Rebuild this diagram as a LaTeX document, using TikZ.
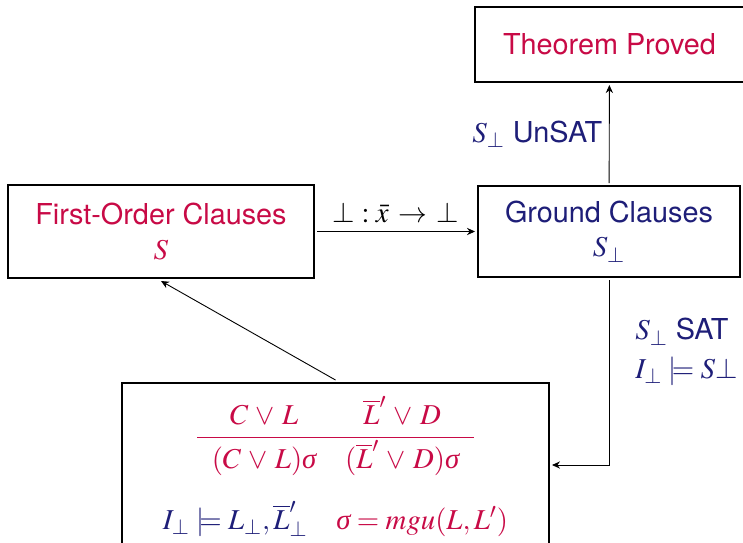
\documentclass[tikz,border=0pt]{standalone}
\usepackage{mathptmx}
\usepackage[no-math]{fontspec}
\setmainfont{TeX Gyre Heros}
\newfontfamily\lserif{Liberation Serif}
\usetikzlibrary{arrows.meta}
\definecolor{cred}{RGB}{200,10,70}
\definecolor{cblue}{RGB}{30,30,120}
\newcommand\msig{\mathord{\mbox{\lserif\itshape σ}}}
\newcommand\vv{\mathbin{\,\vee\,}}
\begin{document}
\begin{tikzpicture}[x=0.5pt,y=-0.5pt,
  box/.style={draw,line width=0.8pt,inner sep=0pt,outer sep=1.5pt,align=center,
    font=\fontsize{14.4}{17.28}\selectfont},
  conn/.style={line width=0.45pt,-{Stealth[length=4pt,width=3.6pt,inset=1.3pt]}},
  lab/.style={font=\fontsize{14.4}{17.28}\selectfont,text=cblue}]
\useasboundingbox (0,0) rectangle (743,542);
\clip (0,0) rectangle (743,542);
\node[box,minimum width=134.5pt,minimum height=37.5pt,text=cred] (tp) at (609.5,44.5) {Theorem Proved};
\node[box,minimum width=131pt,minimum height=45.5pt,text=cblue] (gc) at (609,231.5) {Ground Clauses\\ $S_\bot$};
\node[box,minimum width=153pt,minimum height=46.5pt,text=cred] (fo) at (161,231.5) {First-Order Clauses\\ $S$};
\node[box,minimum width=213.5pt,minimum height=82pt,text=cred] (res) at (335.5,465)
 {\arraycolsep=7.2pt\renewcommand\arraystretch{1.25}%
  $\begin{array}{cc} C\vv L & \overline{L}'\vv D\\ \hline (C\vv L)\msig & (\overline{L}'\vv D)\msig\end{array}$\\[9pt]
  {\color{cblue}$I_\bot\models L_\bot,\overline{L}'_\bot$}\quad $\msig = mgu(L,L')$};
\draw[conn] (fo) -- (gc) node[midway,above=1pt,lab,text=black] (l1) {$\bot:\bar{x}\mathrel{\,\to\,}\bot$};
\draw[conn] (gc) -- (tp) node[midway,left,lab] (l2) {$S_\bot$ UnSAT};
\draw[conn] (gc.south) |- (res.east);
\node[lab,anchor=north west,align=left,inner sep=0pt] (sat) at (635,318) {$S_\bot$ SAT\\[2pt] $I_\bot\models S\bot$};
\draw[conn] (res.north) -- (fo.south);
\end{tikzpicture}
\end{document}
